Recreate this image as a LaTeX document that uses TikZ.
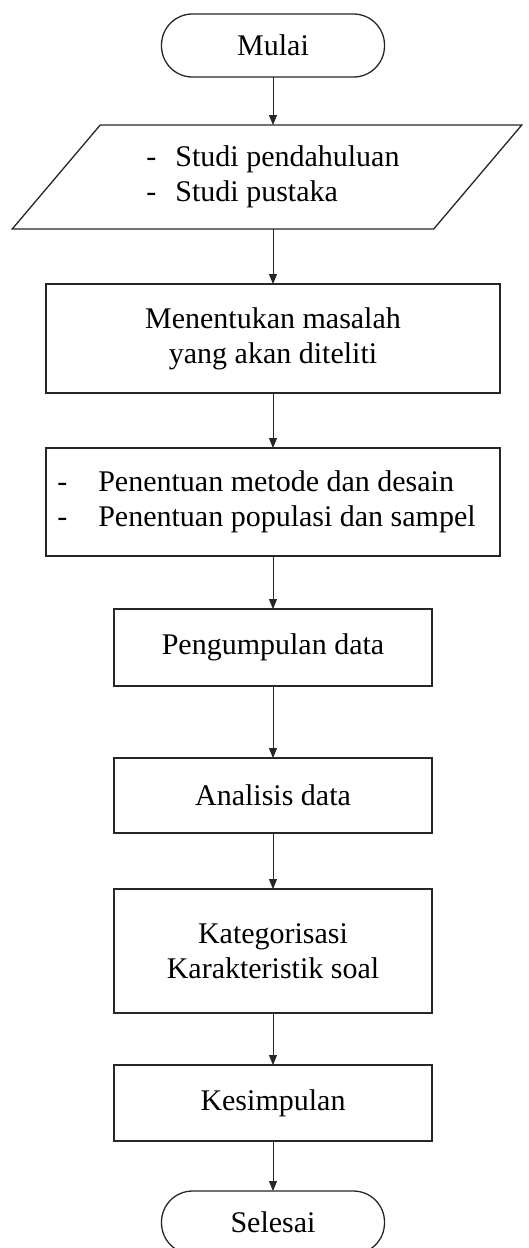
\documentclass[tikz,border=0pt]{standalone}
\usepackage{fontspec}
\setmainfont{Liberation Serif}
\usetikzlibrary{shapes.geometric, positioning, arrows.meta}

\begin{document}
\begin{tikzpicture}[x=1pt,y=-1pt,
    font=\fontsize{30}{35}\selectfont,
    every node/.style={draw=black!85, line width=1.3pt, outer sep=0pt, inner sep=0pt, align=center},
    term/.style={rectangle, rounded corners=31pt, minimum width=223pt, minimum height=63pt},
    io/.style={trapezium, trapezium left angle=45, trapezium right angle=135,
        trapezium stretches=true, minimum width=512pt, minimum height=104pt},
    box/.style={rectangle, minimum width=318pt},
    widebox/.style={rectangle, minimum width=454pt},
    flow/.style={-{Triangle[width=8pt,length=10pt]}, line width=1pt, draw=black!85}]
    \useasboundingbox (0,0) rectangle (529,1248);

    \node[term] (mulai) at (273,45.5) {Mulai};
    \node[io, below=48pt of mulai, xshift=-6pt] (studi)
        {\hspace*{12pt}\begin{tabular}{@{}l@{\hspace{19pt}}l@{}}-&Studi pendahuluan\\-&Studi pustaka\end{tabular}};
    \node[widebox, minimum height=109pt, below=55pt of studi, xshift=6pt] (masalah)
        {Menentukan masalah\\yang akan diteliti};
    \node[widebox, minimum height=108pt, below=55pt of masalah] (metode)
        {\hspace*{-13pt}\begin{tabular}{@{}l@{\hspace{31pt}}l@{}}-&Penentuan metode dan desain\\-&Penentuan populasi dan sampel\end{tabular}};
    \node[box, minimum height=77pt, below=53pt of metode] (kumpul) {Pengumpulan data};
    \node[box, minimum height=75pt, below=72pt of kumpul] (analisis) {Analisis data};
    \node[box, minimum height=124pt, below=56pt of analisis] (kategori)
        {Kategorisasi\\Karakteristik soal};
    \node[box, minimum height=76pt, below=52pt of kategori] (simpul) {Kesimpulan};
    \node[term, below=50pt of simpul] (selesai) {Selesai};

    \draw[flow] (mulai) -- (studi.north -| mulai);
    \draw[flow] (studi.south -| masalah) -- (masalah);
    \draw[flow] (masalah) -- (metode);
    \draw[flow] (metode) -- (kumpul);
    \draw[flow] (kumpul) -- (analisis);
    \draw[flow] (analisis) -- (kategori);
    \draw[flow] (kategori) -- (simpul);
    \draw[flow] (simpul) -- (selesai);
\end{tikzpicture}
\end{document}
